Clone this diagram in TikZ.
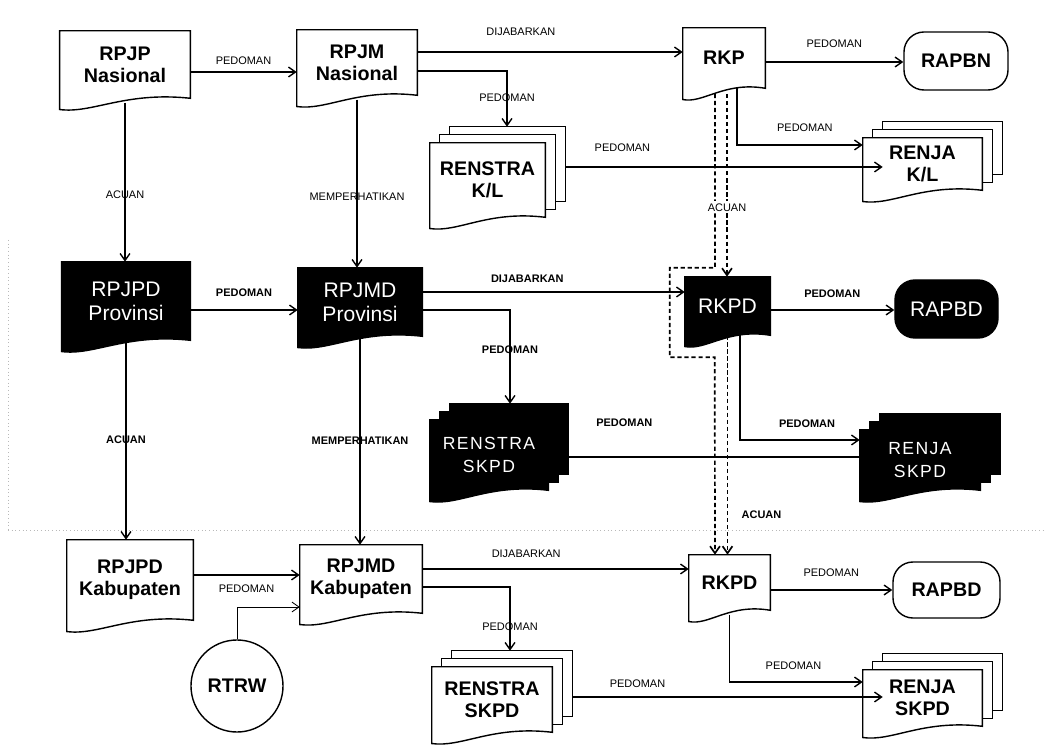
\documentclass[tikz,border=0pt]{standalone}
\usepackage{fontspec}
\setmainfont{Liberation Sans}
\newfontfamily\spaced[LetterSpace=8]{Liberation Sans}
\usetikzlibrary{arrows.meta,calc,backgrounds,positioning}

% outline of a document node: flat top, wavy bottom
\newcommand{\docline}[2]{%
  \path[#2] (#1.north west) -- (#1.north east) -- (#1.south east)
    .. controls ($(#1.south east)!0.5!(#1.south west)+(0pt,5pt)$) and ($(#1.south east)!0.75!(#1.south west)+(0pt,-11pt)$)
    .. ([yshift=-8pt]#1.south west) -- cycle;}
% three stacked documents
\newcommand{\stackline}[2]{%
  \path[#2] ([shift={(0.5cm,0.4cm)}]#1.north west) rectangle ([shift={(0.5cm,0.4cm)}]#1.south east);
  \path[#2] ([shift={(0.25cm,0.2cm)}]#1.north west) rectangle ([shift={(0.25cm,0.2cm)}]#1.south east);
  \docline{#1}{#2}}

\tikzset{
  docw/.style={rectangle, inner sep=0pt, align=center, font=\fontsize{14}{15.5}\selectfont\bfseries},
  docb/.style={rectangle, inner sep=0pt, align=center, text=white, font=\fontsize{15}{17}\selectfont},
  wline/.style={draw=black, fill=white, line width=1pt},
  bline/.style={draw=black, fill=black, line width=1pt},
  termw/.style={wline, rounded corners=0.5cm, inner sep=0pt, font=\fontsize{14}{16}\selectfont\bfseries},
  termb/.style={bline, rounded corners=0.5cm, inner sep=0pt, text=white, font=\fontsize{15}{17}\selectfont},
  arr/.style={-{Straight Barb[length=5pt,width=7pt]}, line width=1pt},
  acuan/.style={arr, dash pattern=on 3pt off 2pt, line width=1.2pt},
  lbl/.style={font=\fontsize{7.8}{9}\selectfont, inner sep=1.5pt},
  lblb/.style={lbl, font=\fontsize{7.8}{9}\selectfont\bfseries},
  scan/.style={gray!55, dotted, line width=0.6pt}
}

\begin{document}
\begin{tikzpicture}[x=0.025cm, y=-0.025cm]
  \useasboundingbox (0,0) rectangle (1046,747);
  % scan marks
  \draw[scan] (8,530) -- (1046,530);
  \draw[scan] (8,240) -- (8,530);

  % Nasional
  \node[docw, minimum width=3.25cm, minimum height=1.675cm] (rpjp) at (125,64.5) {RPJP\\Nasional};
  \node[docw, minimum width=3cm, minimum height=1.625cm] (rpjm) at (357,62.5) {RPJM\\Nasional};
  \node[docw, minimum width=2.05cm, minimum height=1.5cm] (rkp) at (724,58) {RKP};
  \node[termw, minimum width=2.6cm, minimum height=1.45cm] (rapbn) at (956,61) {RAPBN};
  \node[docw, minimum width=2.875cm, minimum height=1.85cm] (renstrakl) at (487.5,180) {RENSTRA\\K/L};
  \node[docw, minimum width=2.975cm, minimum height=1.3cm] (renjakl) at (922.5,164) {RENJA\\K/L};

  % Provinsi
  \node[docb, minimum width=3.2cm, minimum height=1.95cm] (rpjpdprov) at (126,301) {RPJPD\\Provinsi};
  \node[docb, minimum width=3.1cm, minimum height=1.7cm] (rpjmdprov) at (360,302) {RPJMD\\Provinsi};
  \node[docb, minimum width=2.125cm, minimum height=1.45cm] (rkpdprov) at (727.5,306) {RKPD};
  \node[termb, minimum width=2.575cm, minimum height=1.45cm] (rapbdprov) at (946.5,309) {RAPBD};
  \node[docb, font=\spaced\fontsize{12.5}{16}\selectfont, minimum width=2.95cm, minimum height=1.75cm] (renstraskpdprov) at (489,455) {RENSTRA\\SKPD};
  \node[docb, font=\spaced\fontsize{12.5}{16}\selectfont, minimum width=3cm, minimum height=1.5cm] (renjaskpdprov) at (920,460) {RENJA\\SKPD};

  % Kabupaten
  \node[docw, minimum width=3.15cm, minimum height=2cm] (rpjpdkab) at (130,580) {RPJPD\\Kabupaten};
  \node[docw, minimum width=3.05cm, minimum height=1.7cm] (rpjmdkab) at (361,579) {RPJMD\\Kabupaten};
  \node[circle, wline, minimum size=2.3cm, inner sep=0pt, font=\fontsize{14}{16}\selectfont\bfseries] (rtrw) at (237,686) {RTRW};
  \node[docw, minimum width=2.025cm, minimum height=1.375cm] (rkpdkab) at (729.5,582.5) {RKPD};
  \node[termw, minimum width=2.675cm, minimum height=1.4cm] (rapbdkab) at (946.5,590) {RAPBD};
  \node[docw, minimum width=3cm, minimum height=1.625cm] (renstraskpdkab) at (492,699.5) {RENSTRA\\SKPD};
  \node[docw, minimum width=2.975cm, minimum height=1.4cm] (renjaskpdkab) at (922.5,698) {RENJA\\SKPD};

  % Shapes behind the texts
  \begin{pgfonlayer}{background}
    \docline{rpjp}{wline}
    \docline{rpjm}{wline}
    \docline{rkp}{wline}
    \stackline{renstrakl}{wline}
    \stackline{renjakl}{wline}
    \docline{rpjpdprov}{bline}
    \docline{rpjmdprov}{bline}
    \docline{rkpdprov}{bline}
    \stackline{renstraskpdprov}{bline}
    \stackline{renjaskpdprov}{bline}
    \docline{rpjpdkab}{wline}
    \docline{rpjmdkab}{wline}
    \docline{rkpdkab}{wline}
    \stackline{renstraskpdkab}{wline}
    \stackline{renjaskpdkab}{wline}
  \end{pgfonlayer}

  % Nasional arrows
  \draw[arr] ([yshift=-0.1875cm]rpjp.east) -- ([yshift=-0.1875cm]rpjp.east -| rpjm.west) node[lbl, midway, above=3pt] {PEDOMAN};
  \draw[arr] ([yshift=0.2625cm]rpjm.east) -- ([yshift=0.2625cm]rpjm.east -| rkp.west) node[lbl, pos=0.39, above=10pt] {DIJABARKAN};
  \draw[arr] ([yshift=-0.2125cm]rpjm.east) -| ([shift={(0.4875cm,0.4cm)}]renstrakl.north) node[lbl, pos=0.74] {PEDOMAN};
  \draw[arr] ([yshift=-0.1cm]rkp.east) -- ([yshift=-0.1cm]rkp.east -| rapbn.west) node[lbl, midway, above=8pt] {PEDOMAN};
  \draw[arr] ([xshift=0.325cm]rkp.south) |- ([yshift=0.475cm]renjakl.west) node[lbl, pos=0.77, above=7.5pt] {PEDOMAN};
  \draw[arr] ([shift={(0.5cm,0.325cm)}]renstrakl.east) -- ([shift={(0.5cm,0.325cm)}]renstrakl.east -| renjakl.west) node[lbl, pos=0.18, above=9pt] {PEDOMAN};
  \draw[arr] ([yshift=-3pt]rpjp.south) -- (rpjp.south |- rpjpdprov.north) node[lbl, pos=0.58] {ACUAN};
  \draw[arr] ([yshift=-3pt]rpjm.south) -- (rpjm.south |- rpjmdprov.north) node[lbl, pos=0.58] {MEMPERHATIKAN};

  % ACUAN from RKP down to both RKPD
  \draw[acuan] ([shift={(-0.225cm,-4pt)}]rkp.south) |- ([shift={(-0.375cm,0.225cm)}]rkpdprov.north west)
    |- ([shift={(0.75cm,-0.55cm)}]rkpdprov.south west) -- ([xshift=-0.3625cm]rkpdkab.north);
  \draw[acuan] ([shift={(0.075cm,-4pt)}]rkp.south) -- ([xshift=0.075cm]rkp.south |- rkpdprov.north) node[lbl, fill=white, pos=0.62] {ACUAN};
  \draw[acuan] (rkpdprov.south) -- (rkpdprov.south |- rkpdkab.north) node[lblb, pos=0.82, right=8pt] {ACUAN};

  % Provinsi arrows
  \draw[arr] ([yshift=-0.225cm]rpjpdprov.east) -- ([yshift=-0.225cm]rpjpdprov.east -| rpjmdprov.west) node[lblb, midway, above=7.5pt] {PEDOMAN};
  \draw[arr] ([yshift=0.25cm]rpjmdprov.east) -- ([yshift=0.25cm]rpjmdprov.east -| rkpdprov.west) node[lblb, pos=0.4, above=5pt] {DIJABARKAN};
  \draw[arr] ([yshift=-0.2cm]rpjmdprov.east) -| ([shift={(0.525cm,0.4cm)}]renstraskpdprov.north) node[lblb, pos=0.71] {PEDOMAN};
  \draw[arr] ([yshift=-0.1cm]rkpdprov.east) -- ([yshift=-0.1cm]rkpdprov.east -| rapbdprov.west) node[lblb, midway, above=6.5pt] {PEDOMAN};
  \draw[arr] ([xshift=0.3125cm]rkpdprov.south) |- ([yshift=0.5cm]renjaskpdprov.west) node[lblb, pos=0.78, above=6.5pt] {PEDOMAN};
  \draw[arr] ([shift={(0.5cm,-0.05cm)}]renstraskpdprov.east) -- ([shift={(0.5cm,-0.05cm)}]renstraskpdprov.east -| renjaskpdprov.west) node[lblb, pos=0.18, above=19.5pt] {PEDOMAN};
  \draw[arr] (rpjpdprov.south) -- (rpjpdprov.south |- rpjpdkab.north) node[lblb, pos=0.5] {ACUAN};
  \draw[arr] (rpjmdprov.south) -- (rpjmdprov.south |- rpjmdkab.north) node[lblb, pos=0.5] {MEMPERHATIKAN};

  % Kabupaten arrows
  \draw[arr] ([yshift=0.125cm]rpjpdkab.east) -- ([yshift=0.125cm]rpjpdkab.east -| rpjmdkab.west) node[lbl, midway, below=5pt] {PEDOMAN};
  \draw[arr, line width=0.6pt] (rtrw.north) |- ([yshift=-0.7cm]rpjmdkab.west);
  \draw[arr] ([yshift=0.25cm]rpjmdkab.east) -- ([yshift=0.25cm]rpjmdkab.east -| rkpdkab.west) node[lbl, pos=0.39, above=6pt] {DIJABARKAN};
  \draw[arr] ([yshift=-0.2cm]rpjmdkab.east) -| ([shift={(0.45cm,0.4cm)}]renstraskpdkab.north) node[lbl, pos=0.81] {PEDOMAN};
  \draw[arr] ([yshift=-0.1875cm]rkpdkab.east) -- ([yshift=-0.1875cm]rkpdkab.east -| rapbdkab.west) node[lbl, midway, above=7.5pt] {PEDOMAN};
  \draw[arr] ([yshift=-3pt]rkpdkab.south) |- ([yshift=0.4cm]renjaskpdkab.west) node[lbl, pos=0.74, above=6.5pt] {PEDOMAN};
  \draw[arr] ([shift={(0.5cm,0.0625cm)}]renstraskpdkab.east) -- ([shift={(0.5cm,0.0625cm)}]renstraskpdkab.east -| renjaskpdkab.west) node[lbl, pos=0.21, above=4.5pt] {PEDOMAN};
\end{tikzpicture}
\end{document}
